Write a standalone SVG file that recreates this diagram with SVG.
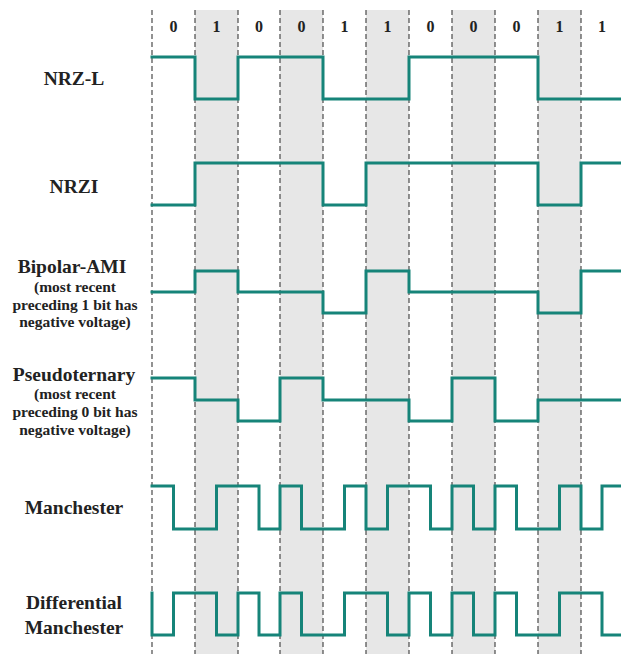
<svg xmlns="http://www.w3.org/2000/svg" width="621" height="654" viewBox="0 0 621 654">
<style>
.shade{fill:#e7e7e7}
.grid{stroke:#4a4a4a;stroke-width:1.2;stroke-dasharray:5 3;fill:none}
.wave{stroke:#168479;stroke-width:3;fill:none;stroke-linejoin:miter;stroke-linecap:square}
.lbl{font-family:"Liberation Serif","Times New Roman",serif;font-weight:bold;font-size:19.5px;fill:#222;text-anchor:middle}
.sub{font-family:"Liberation Serif","Times New Roman",serif;font-weight:bold;font-size:15.5px;fill:#222;text-anchor:middle}
.bit{font-family:"Liberation Serif","Times New Roman",serif;font-weight:bold;font-size:16px;fill:#222;text-anchor:middle}
</style>
<rect width="621" height="654" fill="#fff"/>
<g id="shading">
<rect class="shade" x="195" y="10" width="43" height="644"/>
<rect class="shade" x="280" y="10" width="43" height="644"/>
<rect class="shade" x="366" y="10" width="43" height="644"/>
<rect class="shade" x="452" y="10" width="43" height="644"/>
<rect class="shade" x="538" y="10" width="43" height="644"/>
</g>
<g id="grid">
<line class="grid" x1="152" y1="10" x2="152" y2="654"/>
<line class="grid" x1="195" y1="10" x2="195" y2="654"/>
<line class="grid" x1="238" y1="10" x2="238" y2="654"/>
<line class="grid" x1="280" y1="10" x2="280" y2="654"/>
<line class="grid" x1="323" y1="10" x2="323" y2="654"/>
<line class="grid" x1="366" y1="10" x2="366" y2="654"/>
<line class="grid" x1="409" y1="10" x2="409" y2="654"/>
<line class="grid" x1="452" y1="10" x2="452" y2="654"/>
<line class="grid" x1="495" y1="10" x2="495" y2="654"/>
<line class="grid" x1="538" y1="10" x2="538" y2="654"/>
<line class="grid" x1="581" y1="10" x2="581" y2="654"/>
</g>
<g id="bits">
<text class="bit" x="173.5" y="32">0</text>
<text class="bit" x="216.5" y="32">1</text>
<text class="bit" x="259" y="32">0</text>
<text class="bit" x="301.5" y="32">0</text>
<text class="bit" x="344.5" y="32">1</text>
<text class="bit" x="387.5" y="32">1</text>
<text class="bit" x="430.5" y="32">0</text>
<text class="bit" x="473.5" y="32">0</text>
<text class="bit" x="516.5" y="32">0</text>
<text class="bit" x="559.5" y="32">1</text>
<text class="bit" x="602" y="32">1</text>
</g>
<g id="nrzl">
<text class="lbl" x="74" y="85">NRZ-L</text>
<path class="wave" d="M152,57 H195 V99 H238 V57 H323 V99 H409 V57 H538 V99 H622"/>
</g>
<g id="nrzi">
<text class="lbl" x="74" y="193">NRZI</text>
<path class="wave" d="M152,205 H195 V163 H323 V205 H366 V163 H538 V205 H581 V163 H622"/>
</g>
<g id="ami">
<text class="lbl" x="72" y="273">Bipolar-AMI</text>
<text class="sub" x="75" y="292">(most recent</text>
<text class="sub" x="75" y="310">preceding 1 bit has</text>
<text class="sub" x="75" y="327">negative voltage)</text>
<path class="wave" d="M152,292 H195 V271 H238 V292 H323 V313 H366 V271 H409 V292 H538 V313 H581 V271 H622"/>
</g>
<g id="pseudo">
<text class="lbl" x="74" y="381">Pseudoternary</text>
<text class="sub" x="75" y="399">(most recent</text>
<text class="sub" x="75" y="417">preceding 0 bit has</text>
<text class="sub" x="75" y="435">negative voltage)</text>
<path class="wave" d="M152,378 H195 V400 H238 V421 H280 V378 H323 V400 H409 V421 H452 V378 H495 V421 H538 V400 H622"/>
</g>
<g id="manchester">
<text class="lbl" x="74" y="514">Manchester</text>
<path class="wave" d="M152,486 H173.5 V529 H216.5 V486 H259 V529 H280 V486 H301.5 V529 H344.5 V486 H366 V529 H387.5 V486 H430.5 V529 H452 V486 H473.5 V529 H495 V486 H516.5 V529 H559.5 V486 H581 V529 H602 V486 H622"/>
</g>
<g id="diffmanchester">
<text class="lbl" x="74" y="609">Differential</text>
<text class="lbl" x="74" y="634">Manchester</text>
<path class="wave" d="M152,593 V635 H173.5 V593 H216.5 V635 H238 V593 H259 V635 H280 V593 H301.5 V635 H344.5 V593 H387.5 V635 H409 V593 H430.5 V635 H452 V593 H473.5 V635 H495 V593 H516.5 V635 H559.5 V593 H602 V635 H622"/>
</g>
</svg>
